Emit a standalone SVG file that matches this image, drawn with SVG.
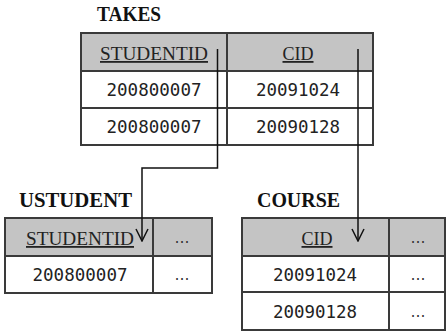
<svg xmlns="http://www.w3.org/2000/svg" width="447" height="331" viewBox="0 0 447 331">
<style>
.title{font-family:"Liberation Serif",serif;font-weight:bold;font-size:20px;fill:#111}
.hdr{fill:#c4c4c4;stroke:none}
.grid{fill:none;stroke:#3a3a3a;stroke-width:2}
.key{font-family:"Liberation Serif",serif;font-size:18px;fill:#222;text-anchor:middle;text-decoration:underline}
.val{font-family:"DejaVu Sans Mono",monospace;font-size:18px;fill:#222;text-anchor:middle}
.dots{font-family:"DejaVu Sans",sans-serif;font-size:15px;fill:#333;text-anchor:middle}
.conn{fill:none;stroke:#111;stroke-width:1.5}
</style>
<defs>
<marker id="vee" markerWidth="14" markerHeight="14" refX="13" refY="7" orient="auto" markerUnits="userSpaceOnUse" viewBox="0 0 14 14">
<path d="M1,1 L13,7 L1,13" fill="none" stroke="#111" stroke-width="1.5"/>
</marker>
</defs>
<rect width="447" height="331" fill="#fff"/>
<g id="takes">
<text class="title" x="97" y="21" textLength="64" lengthAdjust="spacingAndGlyphs">TAKES</text>
<rect class="hdr" x="81" y="33" width="292" height="38"/>
<rect class="grid" x="81" y="33" width="292" height="112"/>
<line class="grid" x1="81" y1="71" x2="373" y2="71"/>
<line class="grid" x1="81" y1="108" x2="373" y2="108"/>
<line class="grid" x1="227" y1="33" x2="227" y2="145"/>
<text class="key" x="154" y="60" textLength="108" lengthAdjust="spacingAndGlyphs">STUDENTID</text>
<text class="key" x="298" y="60" textLength="31" lengthAdjust="spacingAndGlyphs">CID</text>
<text class="val" x="154" y="96" textLength="95" lengthAdjust="spacingAndGlyphs">200800007</text>
<text class="val" x="298" y="96" textLength="84" lengthAdjust="spacingAndGlyphs">20091024</text>
<text class="val" x="154" y="133" textLength="95" lengthAdjust="spacingAndGlyphs">200800007</text>
<text class="val" x="298" y="133" textLength="84" lengthAdjust="spacingAndGlyphs">20090128</text>
</g>
<g id="ustudent">
<text class="title" x="19" y="207" textLength="113" lengthAdjust="spacingAndGlyphs">USTUDENT</text>
<rect class="hdr" x="5" y="218" width="207" height="38"/>
<rect class="grid" x="5" y="218" width="207" height="75"/>
<line class="grid" x1="5" y1="256" x2="212" y2="256"/>
<line class="grid" x1="153" y1="218" x2="153" y2="293"/>
<text class="key" x="80" y="245" textLength="108" lengthAdjust="spacingAndGlyphs">STUDENTID</text>
<text class="dots" x="182" y="243">…</text>
<text class="val" x="80" y="281" textLength="95" lengthAdjust="spacingAndGlyphs">200800007</text>
<text class="dots" x="182" y="280">…</text>
</g>
<g id="course">
<text class="title" x="257" y="207" textLength="83" lengthAdjust="spacingAndGlyphs">COURSE</text>
<rect class="hdr" x="242" y="218" width="203" height="38"/>
<rect class="grid" x="242" y="218" width="203" height="112"/>
<line class="grid" x1="242" y1="256" x2="445" y2="256"/>
<line class="grid" x1="242" y1="292" x2="445" y2="292"/>
<line class="grid" x1="389" y1="218" x2="389" y2="330"/>
<text class="key" x="317" y="245" textLength="31" lengthAdjust="spacingAndGlyphs">CID</text>
<text class="dots" x="418" y="243">…</text>
<text class="val" x="315" y="281" textLength="84" lengthAdjust="spacingAndGlyphs">20091024</text>
<text class="dots" x="418" y="280">…</text>
<text class="val" x="315" y="318" textLength="84" lengthAdjust="spacingAndGlyphs">20090128</text>
<text class="dots" x="418" y="317">…</text>
</g>
<g id="connectors">
<path class="conn" d="M217.5,49 V168 H142 V241" marker-end="url(#vee)"/>
<path class="conn" d="M358,49 V241" marker-end="url(#vee)"/>
</g>
</svg>
